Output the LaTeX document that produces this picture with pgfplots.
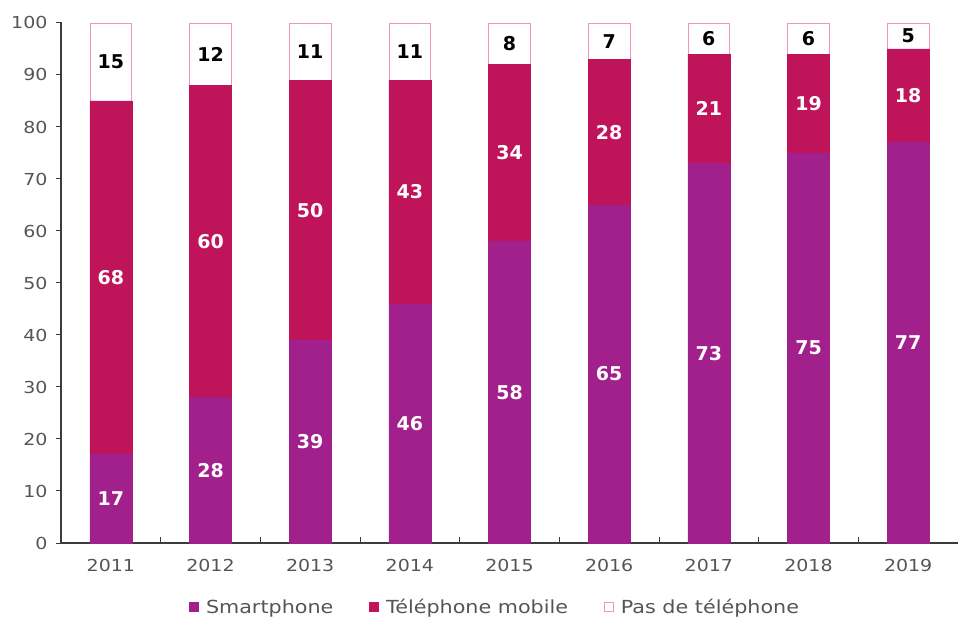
\documentclass[border=0pt]{standalone}
\usepackage{pgfplots}
\pgfplotsset{compat=1.18}
\usepackage{pgfplotstable}
\usepackage{fontspec}
\setmainfont{DejaVu Sans}
\newfontfamily\widefont[FakeStretch=1.15]{DejaVu Sans}
\definecolor{smart}{RGB}{162,32,140}
\definecolor{mobile}{RGB}{192,20,90}
\definecolor{pinkb}{RGB}{240,150,190}
\definecolor{axgray}{RGB}{60,60,60}
\definecolor{txtgray}{RGB}{85,85,85}
\pgfplotstableread{
x year s m p
0 2011 17 68 15
1 2012 28 60 12
2 2013 39 50 11
3 2014 46 43 11
4 2015 58 34 8
5 2016 65 28 7
6 2017 73 21 6
7 2018 75 19 6
8 2019 77 18 5
}\data
\begin{document}
\begin{tikzpicture}
\path[use as bounding box] (-61pt,-80pt) rectangle (899pt,543pt);
\begin{axis}[
  scale only axis, width=897pt, height=520pt,
  ybar stacked, bar width=0.42,
  xmin=-0.5, xmax=8.5, ymin=0, ymax=100,
  axis x line=bottom, axis y line=left,
  axis line style={-, axgray, line width=1.2pt},
  xtick={0,1,2,3,4,5,6,7,8},
  xticklabels={2011,2012,2013,2014,2015,2016,2017,2018,2019},
  major x tick style={draw=none},
  extra x ticks={0.5,1.5,2.5,3.5,4.5,5.5,6.5,7.5},
  extra x tick labels={},
  extra x tick style={major x tick style={draw=axgray, line width=1pt}},
  ytick={0,10,...,100},
  tick align=inside,
  major tick length=6pt,
  y tick style={axgray, line width=1pt, xshift=-5pt},
  tick label style={font=\widefont\fontsize{16.5}{18}\selectfont, text=txtgray},
  /pgf/number format/assume math mode=true,
  xticklabel style={yshift=-13pt},
  yticklabel style={xshift=-10pt},
  legend style={draw=none, fill=none, at={(0.484,-0.123)}, anchor=center,
    legend columns=3, font=\widefont\fontsize{18}{20}\selectfont, text=txtgray,
    /tikz/every odd column/.append style={column sep=5pt},
    /tikz/every even column/.append style={column sep=34pt}},
  legend cell align=left,
  legend image code/.code={\draw[#1, line width=0.8pt] (0pt,-4.5pt) rectangle (9pt,4.5pt);},
]
\addplot[fill=smart, draw=smart] table[x=x, y=s] {\data};
\addlegendentry{Smartphone}
\addplot[fill=mobile, draw=mobile] table[x=x, y=m] {\data};
\addlegendentry{Téléphone mobile}
\addplot[fill=white, draw=pinkb, line width=0.8pt] table[x=x, y=p] {\data};
\addlegendentry{Pas de téléphone}
\end{axis}
\begin{axis}[
  scale only axis, width=897pt, height=520pt,
  xmin=-0.5, xmax=8.5, ymin=0, ymax=100,
  hide axis,
  /pgf/number format/assume math mode=true,
  nodes near coords style={anchor=center, font=\fontsize{19}{21}\selectfont\bfseries},
]
\addplot[draw=none, mark=none, nodes near coords, point meta=\thisrow{s},
  nodes near coords style={white}] table[x=x, y expr=\thisrow{s}/2] {\data};
\addplot[draw=none, mark=none, nodes near coords, point meta=\thisrow{m},
  nodes near coords style={white}] table[x=x, y expr=\thisrow{s}+\thisrow{m}/2] {\data};
\addplot[draw=none, mark=none, nodes near coords, point meta=\thisrow{p},
  nodes near coords style={black}] table[x=x, y expr=\thisrow{s}+\thisrow{m}+\thisrow{p}/2] {\data};
\end{axis}
\end{tikzpicture}
\end{document}
